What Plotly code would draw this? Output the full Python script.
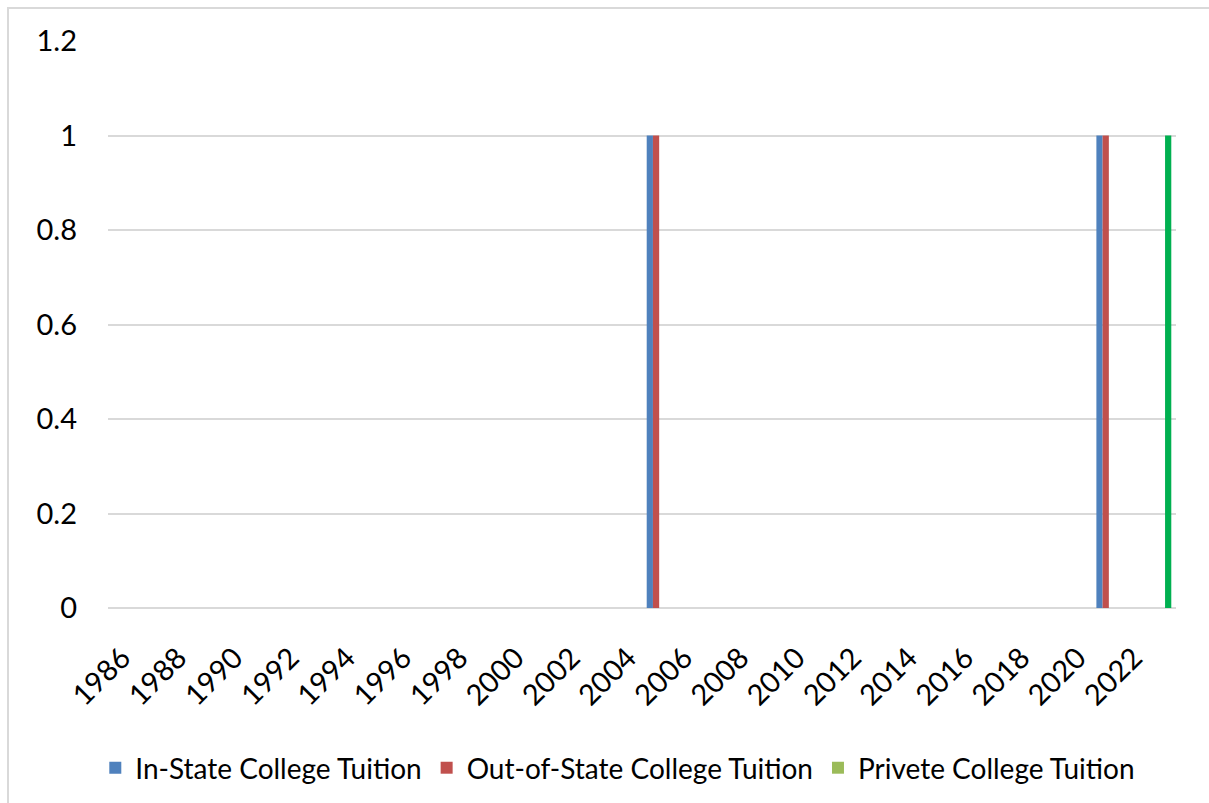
import plotly.graph_objects as go

years = [str(y) for y in range(1986, 2024)]
in_state = [0] * len(years)
out_state = [0] * len(years)
private = [0] * len(years)
in_state[years.index("2005")] = 1
in_state[years.index("2021")] = 1
out_state[years.index("2005")] = 1
out_state[years.index("2021")] = 1
private[years.index("2023")] = 1

tick_labels = [str(y) for y in range(1986, 2024, 2)]

series_names = ["In-State College Tuition", "Out-of-State College Tuition", "Privete College Tuition"]
colors = ["#4F81BD", "#C0504D", "#9BBB59"]
private_point_color = "#00B050"

FONT = "Lato"

fig = go.Figure()
fig.add_trace(go.Bar(x=years, y=in_state, name=series_names[0],
                     marker=dict(color=colors[0], line=dict(width=0))))
fig.add_trace(go.Bar(x=years, y=out_state, name=series_names[1],
                     marker=dict(color=colors[1], line=dict(width=0))))
green_cols = [colors[2] if v == 0 else private_point_color for v in private]
fig.add_trace(go.Bar(x=years, y=private, name=series_names[2],
                     marker=dict(color=green_cols, line=dict(width=0))))

fig.update_layout(
    width=1209, height=803,
    margin=dict(l=108, r=33, t=41, b=195, autoexpand=False),
    paper_bgcolor="white", plot_bgcolor="white",
    barmode="group", bargap=0.335, bargroupgap=0,
    font=dict(family=FONT, color="#000000", size=29),
    showlegend=True,
    legend=dict(orientation="h", xref="container", x=0.511, xanchor="center",
                yref="container", y=(803 - 768) / 803, yanchor="middle",
                font=dict(size=28, family=FONT), traceorder="normal",
                itemwidth=30, tracegroupgap=0, bgcolor="rgba(0,0,0,0)"),
    xaxis=dict(type="category", tickmode="array", tickvals=tick_labels, ticktext=tick_labels,
               tickangle=-45, showgrid=False, showline=False, ticks="", automargin=False,
               tickfont=dict(size=29, family=FONT), ticklabelstandoff=26),
    yaxis=dict(range=[0, 1.2], tickmode="array", tickvals=[0, 0.2, 0.4, 0.6, 0.8, 1, 1.2],
               ticktext=["0", "0.2", "0.4", "0.6", "0.8", "1", "1.2"],
               showgrid=True, gridcolor="#D9D9D9", gridwidth=1.5,
               zeroline=True, zerolinecolor="#D9D9D9", zerolinewidth=2,
               showline=False, ticks="", ticklabelstandoff=30, automargin=False,
               tickfont=dict(size=29, family=FONT)),
    shapes=[dict(type="rect", xref="paper", yref="paper",
                 x0=(8 - 108) / 1068, x1=(1215 - 108) / 1068,
                 y0=(608 - 810) / 567, y1=(608 - 8) / 567,
                 line=dict(color="#D9D9D9", width=2), fillcolor="rgba(0,0,0,0)", layer="below")],
)

fig.write_html("out.html")
